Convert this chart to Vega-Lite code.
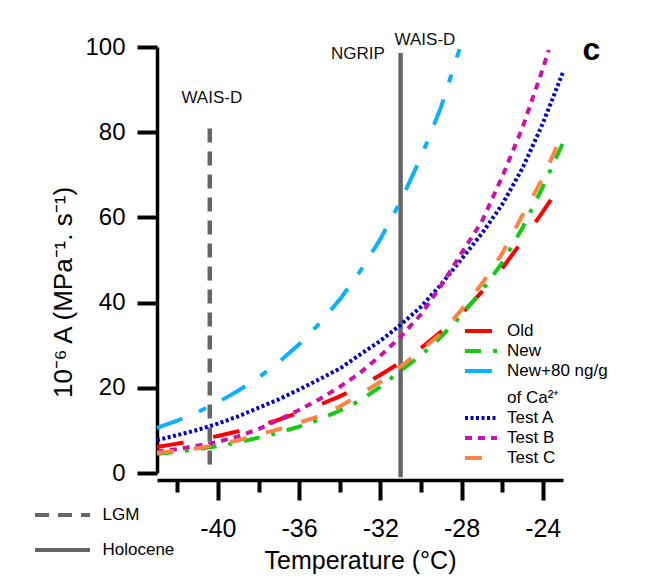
{
  "$schema": "https://vega.github.io/schema/vega-lite/v6.json",
  "width": 406,
  "height": 426,
  "autosize": {"type": "none"},
  "padding": {"left": 157, "top": 47, "right": 101, "bottom": 109},
  "background": "white",
  "config": {
    "view": {"stroke": null},
    "font": "Liberation Sans",
    "axis": {"grid": false, "domainColor": "black", "tickColor": "black", "labelColor": "black", "titleColor": "black", "titleFontWeight": "normal", "labelFont": "Liberation Sans", "titleFont": "Liberation Sans"},
    "legend": {"labelFont": "Liberation Sans", "labelColor": "black"}
  },
  "resolve": {"scale": {"strokeDash": "independent"}, "legend": {"strokeDash": "independent"}},
  "layer": [
    {
      "data": {"values": [
        {"t": -40.4, "y1": 2, "y2": 82, "period": "LGM"},
        {"t": -31, "y1": -1, "y2": 98.6, "period": "Holocene"}
      ]},
      "mark": {"type": "rule", "strokeWidth": 4.5, "color": "#666666", "clip": false},
      "encoding": {
        "x": {"field": "t", "type": "quantitative"},
        "y": {"field": "y1", "type": "quantitative"},
        "y2": {"field": "y2"},
        "strokeDash": {
          "field": "period", "type": "nominal",
          "scale": {"domain": ["LGM", "Holocene"], "range": [[14, 9], [1, 0]]},
          "legend": {"orient": "none", "legendX": -106.5, "legendY": 456, "title": null, "symbolType": "M-2.75,0H2.75", "symbolSize": 400, "symbolStrokeWidth": 4, "symbolStrokeColor": "#666666", "labelFontSize": 17, "labelOffset": 28, "rowPadding": 15, "padding": 0}
        }
      }
    },
    {
      "data": {"values": [
        {"s": "Old", "t": -43, "v": 6.1}, {"s": "Old", "t": -42, "v": 6.9}, {"s": "Old", "t": -41, "v": 7.8}, {"s": "Old", "t": -40, "v": 8.7}, {"s": "Old", "t": -39, "v": 9.8}, {"s": "Old", "t": -38, "v": 11.1}, {"s": "Old", "t": -37, "v": 12.5}, {"s": "Old", "t": -36, "v": 14.2}, {"s": "Old", "t": -35, "v": 16.0}, {"s": "Old", "t": -34, "v": 18.0}, {"s": "Old", "t": -33, "v": 20.3}, {"s": "Old", "t": -32, "v": 23.0}, {"s": "Old", "t": -31, "v": 26.0}, {"s": "Old", "t": -30, "v": 29.3}, {"s": "Old", "t": -29, "v": 33.2}, {"s": "Old", "t": -28, "v": 37.4}, {"s": "Old", "t": -27, "v": 42.5}, {"s": "Old", "t": -26, "v": 48.0}, {"s": "Old", "t": -25, "v": 54.5}, {"s": "Old", "t": -24, "v": 61.3}, {"s": "Old", "t": -23, "v": 68.3},
        {"s": "New", "t": -43, "v": 4.5}, {"s": "New", "t": -42, "v": 5.0}, {"s": "New", "t": -41, "v": 5.6}, {"s": "New", "t": -40, "v": 6.3}, {"s": "New", "t": -39, "v": 7.2}, {"s": "New", "t": -38, "v": 8.3}, {"s": "New", "t": -37, "v": 9.5}, {"s": "New", "t": -36, "v": 10.9}, {"s": "New", "t": -35, "v": 12.6}, {"s": "New", "t": -34, "v": 14.6}, {"s": "New", "t": -33, "v": 17.0}, {"s": "New", "t": -32, "v": 20.2}, {"s": "New", "t": -31, "v": 24.0}, {"s": "New", "t": -30, "v": 27.6}, {"s": "New", "t": -29, "v": 32.0}, {"s": "New", "t": -28, "v": 37.0}, {"s": "New", "t": -27, "v": 42.8}, {"s": "New", "t": -26, "v": 49.3}, {"s": "New", "t": -25, "v": 57.5}, {"s": "New", "t": -24, "v": 67.1}, {"s": "New", "t": -23, "v": 77.5},
        {"s": "New+80 ng/g of Ca²⁺", "t": -43, "v": 10.6}, {"s": "New+80 ng/g of Ca²⁺", "t": -42, "v": 12.3}, {"s": "New+80 ng/g of Ca²⁺", "t": -41, "v": 14.3}, {"s": "New+80 ng/g of Ca²⁺", "t": -40, "v": 16.6}, {"s": "New+80 ng/g of Ca²⁺", "t": -39, "v": 19.3}, {"s": "New+80 ng/g of Ca²⁺", "t": -38, "v": 22.4}, {"s": "New+80 ng/g of Ca²⁺", "t": -37, "v": 26.0}, {"s": "New+80 ng/g of Ca²⁺", "t": -36, "v": 30.2}, {"s": "New+80 ng/g of Ca²⁺", "t": -35, "v": 35.1}, {"s": "New+80 ng/g of Ca²⁺", "t": -34, "v": 40.7}, {"s": "New+80 ng/g of Ca²⁺", "t": -33, "v": 47.3}, {"s": "New+80 ng/g of Ca²⁺", "t": -32, "v": 54.9}, {"s": "New+80 ng/g of Ca²⁺", "t": -31, "v": 63.8}, {"s": "New+80 ng/g of Ca²⁺", "t": -30, "v": 74.1}, {"s": "New+80 ng/g of Ca²⁺", "t": -29, "v": 86.0}, {"s": "New+80 ng/g of Ca²⁺", "t": -28.1, "v": 99.5},
        {"s": "Test A", "t": -43, "v": 7.7}, {"s": "Test A", "t": -42, "v": 8.9}, {"s": "Test A", "t": -41, "v": 10.1}, {"s": "Test A", "t": -40, "v": 11.6}, {"s": "Test A", "t": -39, "v": 13.3}, {"s": "Test A", "t": -38, "v": 15.3}, {"s": "Test A", "t": -37, "v": 17.3}, {"s": "Test A", "t": -36, "v": 19.6}, {"s": "Test A", "t": -35, "v": 22.0}, {"s": "Test A", "t": -34, "v": 24.5}, {"s": "Test A", "t": -33, "v": 27.8}, {"s": "Test A", "t": -32, "v": 31.0}, {"s": "Test A", "t": -31, "v": 34.8}, {"s": "Test A", "t": -30, "v": 39.0}, {"s": "Test A", "t": -29, "v": 44.3}, {"s": "Test A", "t": -28, "v": 50.2}, {"s": "Test A", "t": -27, "v": 56.2}, {"s": "Test A", "t": -26, "v": 63.0}, {"s": "Test A", "t": -25, "v": 71.5}, {"s": "Test A", "t": -24, "v": 82.0}, {"s": "Test A", "t": -23, "v": 94.1},
        {"s": "Test B", "t": -43, "v": 5.0}, {"s": "Test B", "t": -42, "v": 5.6}, {"s": "Test B", "t": -41, "v": 6.4}, {"s": "Test B", "t": -40, "v": 7.3}, {"s": "Test B", "t": -39, "v": 8.6}, {"s": "Test B", "t": -38, "v": 10.3}, {"s": "Test B", "t": -37, "v": 12.5}, {"s": "Test B", "t": -36, "v": 14.8}, {"s": "Test B", "t": -35, "v": 17.3}, {"s": "Test B", "t": -34, "v": 20.2}, {"s": "Test B", "t": -33, "v": 23.5}, {"s": "Test B", "t": -32, "v": 27.5}, {"s": "Test B", "t": -31, "v": 32.0}, {"s": "Test B", "t": -30, "v": 37.2}, {"s": "Test B", "t": -29, "v": 44.0}, {"s": "Test B", "t": -28, "v": 51.6}, {"s": "Test B", "t": -27, "v": 59.0}, {"s": "Test B", "t": -26, "v": 69.5}, {"s": "Test B", "t": -25, "v": 81.0}, {"s": "Test B", "t": -24, "v": 94.8}, {"s": "Test B", "t": -23.7, "v": 99.3},
        {"s": "Test C", "t": -43, "v": 4.7}, {"s": "Test C", "t": -42, "v": 5.2}, {"s": "Test C", "t": -41, "v": 5.8}, {"s": "Test C", "t": -40, "v": 6.6}, {"s": "Test C", "t": -39, "v": 7.7}, {"s": "Test C", "t": -38, "v": 9.0}, {"s": "Test C", "t": -37, "v": 10.3}, {"s": "Test C", "t": -36, "v": 11.8}, {"s": "Test C", "t": -35, "v": 13.4}, {"s": "Test C", "t": -34, "v": 15.6}, {"s": "Test C", "t": -33, "v": 18.4}, {"s": "Test C", "t": -32, "v": 21.4}, {"s": "Test C", "t": -31, "v": 25.0}, {"s": "Test C", "t": -30, "v": 28.7}, {"s": "Test C", "t": -29, "v": 32.8}, {"s": "Test C", "t": -28, "v": 38.3}, {"s": "Test C", "t": -27, "v": 44.4}, {"s": "Test C", "t": -26, "v": 51.5}, {"s": "Test C", "t": -25, "v": 60.5}, {"s": "Test C", "t": -24, "v": 69.2}, {"s": "Test C", "t": -23, "v": 80.0}
      ]},
      "mark": {"type": "line", "strokeWidth": 4, "clip": false},
      "encoding": {
        "x": {
          "field": "t", "type": "quantitative",
          "scale": {"domain": [-43, -23], "nice": false, "zero": false},
          "axis": {
            "values": [-42, -40, -38, -36, -34, -32, -30, -28, -26, -24],
            "labelExpr": "datum.value % 4 == 0 ? '' + datum.value : ''",
            "tickSize": {"condition": {"test": "datum.value % 4 == 0", "value": 20}, "value": 12},
            "tickWidth": 4, "domainWidth": 3.5, "offset": 7,
            "labelFontSize": 25, "labelPadding": 16, "labelFlush": false,
            "title": "Temperature (°C)", "titleFontSize": 25, "titlePadding": 7
          }
        },
        "y": {
          "field": "v", "type": "quantitative",
          "scale": {"domain": [0, 100], "nice": false},
          "axis": {
            "values": [0, 20, 40, 60, 80, 100],
            "tickSize": 20, "tickWidth": 4, "domainWidth": 3.5,
            "labelFontSize": 24, "labelPadding": 12, "labelFlush": false,
            "title": "10⁻⁶ A (MPa⁻¹. s⁻¹)", "titleFontSize": 26, "titlePadding": 8, "titleY": 245
          }
        },
        "color": {
          "field": "s", "type": "nominal",
          "scale": {"domain": ["Old", "New", "New+80 ng/g of Ca²⁺", "Test A", "Test B", "Test C"], "range": ["#ff0000", "#11cc11", "#0bb0ff", "#0000c8", "#cc11aa", "#ff8444"]},
          "legend": null
        },
        "strokeDash": {
          "field": "s", "type": "nominal",
          "scale": {"domain": ["Old", "New", "New+80 ng/g of Ca²⁺", "Test A", "Test B", "Test C"], "range": [[27, 30], [16, 12, 4, 12], [27, 18, 8, 18], [3, 2.5], [7, 6], [17, 20]]},
          "legend": {"orient": "none", "legendX": 312, "legendY": 272, "title": null, "symbolType": "M-1.6,0H1.6", "symbolSize": 400, "symbolStrokeWidth": 4, "labelFontSize": 17, "labelOffset": 14, "rowPadding": 0, "padding": 0,
            "labelExpr": "datum.label == 'New+80 ng/g of Ca²⁺' ? ['New+80 ng/g', 'of Ca²⁺'] : datum.label",
            "encode": {
              "symbols": {"update": {"stroke": {"scale": "color", "field": "value"}}},
              "labels": {"update": {"lineHeight": {"signal": "datum.value == 'New+80 ng/g of Ca²⁺' ? 27 : 17"}}}
            }
          }
        }
      }
    },
    {
      "data": {"values": [
        {"t": -40.3, "v": 88, "label": "WAIS-D"},
        {"t": -33.1, "v": 98.4, "label": "NGRIP"},
        {"t": -29.8, "v": 101.6, "label": "WAIS-D"}
      ]},
      "mark": {"type": "text", "fontSize": 17, "color": "#111111", "align": "center", "baseline": "middle", "clip": false},
      "encoding": {
        "x": {"field": "t", "type": "quantitative"},
        "y": {"field": "v", "type": "quantitative"},
        "text": {"field": "label"}
      }
    },
    {
      "data": {"values": [{"t": -21.6, "v": 99.3, "label": "c"}]},
      "mark": {"type": "text", "fontSize": 32, "fontWeight": 900, "color": "black", "align": "center", "baseline": "middle", "clip": false},
      "encoding": {
        "x": {"field": "t", "type": "quantitative"},
        "y": {"field": "v", "type": "quantitative"},
        "text": {"field": "label"}
      }
    }
  ]
}
